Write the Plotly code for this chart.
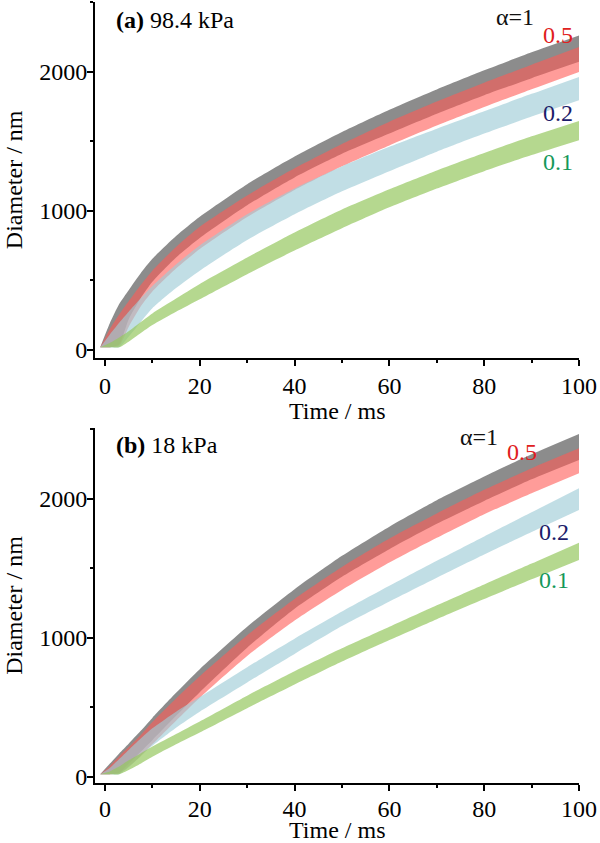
import plotly.graph_objects as go

# ---------------- data ----------------
time_ms = [-1, 1, 3, 5, 7.5, 10, 15, 20, 30, 40, 50, 60, 70, 80, 90, 100]

# panel (a) 98.4 kPa
a_a1_hi  = [20, 190, 330, 430, 550, 655, 819, 957, 1191, 1390, 1566, 1726, 1872, 2009, 2139, 2260]
a_a1_lo  = [20, 20, 40, 220, 370, 490, 665, 805, 1040, 1240, 1410, 1555, 1697, 1830, 1953, 2070]
a_a05_hi = [20, 150, 255, 350, 465, 570, 740, 885, 1110, 1305, 1480, 1640, 1785, 1920, 2050, 2177]
a_a05_lo = [20, 20, 30, 165, 310, 420, 585, 725, 955, 1150, 1320, 1470, 1612, 1745, 1873, 1998]
a_a02_hi = [20, 110, 195, 275, 370, 460, 615, 750, 975, 1160, 1320, 1460, 1590, 1715, 1840, 1962]
a_a02_lo = [20, 20, 20, 95, 200, 300, 445, 570, 790, 975, 1140, 1285, 1425, 1555, 1678, 1795]
a_a01_hi = [20, 50, 90, 135, 200, 263, 370, 475, 665, 845, 1010, 1155, 1290, 1415, 1535, 1646]
a_a01_lo = [20, 20, 20, 60, 120, 179, 275, 365, 545, 715, 875, 1025, 1160, 1285, 1400, 1507]

# panel (b) 18 kPa
b_a1_hi  = [20, 95, 170, 240, 330, 425, 605, 775, 1080, 1350, 1590, 1800, 1990, 2160, 2320, 2466]
b_a1_lo  = [20, 20, 30, 95, 180, 265, 440, 610, 930, 1210, 1440, 1638, 1820, 1985, 2140, 2279]
b_a05_hi = [20, 80, 150, 215, 300, 395, 565, 725, 1020, 1280, 1510, 1715, 1895, 2065, 2220, 2363]
b_a05_lo = [20, 20, 25, 75, 150, 235, 405, 570, 870, 1125, 1345, 1542, 1720, 1890, 2040, 2184]
b_a02_hi = [20, 65, 130, 195, 275, 350, 470, 575, 790, 995, 1190, 1375, 1555, 1730, 1903, 2076]
b_a02_lo = [20, 20, 20, 70, 150, 225, 355, 470, 680, 885, 1085, 1262, 1433, 1600, 1762, 1920]
b_a01_hi = [20, 40, 75, 120, 170, 220, 310, 400, 585, 760, 925, 1080, 1235, 1385, 1535, 1685]
b_a01_lo = [20, 20, 20, 50, 95, 145, 235, 320, 495, 665, 830, 985, 1135, 1280, 1422, 1561]

alpha_labels = ["α=1", "0.5", "0.2", "0.1"]
label_a_x = [86.4, 95.5, 95.5, 95.5]
label_a_y = [2390, 2261, 1701, 1350]
label_b_x = [79, 88, 94.7, 94.7]
label_b_y = [2445, 2337, 1762, 1417]

panel_titles = ["<b>(a)</b> 98.4 kPa", "<b>(b)</b> 18 kPa"]
x_title = "Time / ms"
y_title = "Diameter / nm"

# ---------------- styling ----------------
FONT = "Liberation Serif, Times New Roman, serif"
fills = ["rgba(120,120,120,0.85)", "rgba(255,90,85,0.6)",
         "rgba(160,205,215,0.65)", "rgba(150,200,95,0.7)"]
label_colors = ["#111111", "#e02020", "#1c1c6a", "#15985a"]

fig = go.Figure()

panels = [
    ("x", "y", [(a_a1_lo, a_a1_hi), (a_a05_lo, a_a05_hi), (a_a02_lo, a_a02_hi), (a_a01_lo, a_a01_hi)]),
    ("x2", "y2", [(b_a1_lo, b_a1_hi), (b_a05_lo, b_a05_hi), (b_a02_lo, b_a02_hi), (b_a01_lo, b_a01_hi)]),
]

for xa, ya, bands in panels:
    for (lo, hi), col in zip(bands, fills):
        fig.add_trace(go.Scatter(x=time_ms, y=lo, mode="lines",
                                 line=dict(width=0, shape="spline", smoothing=0.6),
                                 xaxis=xa, yaxis=ya, showlegend=False, hoverinfo="skip"))
        fig.add_trace(go.Scatter(x=time_ms, y=hi, mode="lines",
                                 line=dict(width=0, shape="spline", smoothing=0.6),
                                 fill="tonexty", fillcolor=col,
                                 xaxis=xa, yaxis=ya, showlegend=False, hoverinfo="skip"))

annotations = []
for xa, ya, lx, ly in [("x", "y", label_a_x, label_a_y), ("x2", "y2", label_b_x, label_b_y)]:
    for txt, x, y, c in zip(alpha_labels, lx, ly, label_colors):
        annotations.append(dict(x=x, y=y, xref=xa, yref=ya, text=txt, showarrow=False,
                                font=dict(family=FONT, size=24, color=c),
                                xanchor="center", yanchor="middle"))
annotations.append(dict(x=1.9, y=2369, xref="x", yref="y", text=panel_titles[0], showarrow=False,
                        font=dict(family=FONT, size=24, color="black"), xanchor="left", yanchor="middle"))
annotations.append(dict(x=1.9, y=2387, xref="x2", yref="y2", text=panel_titles[1], showarrow=False,
                        font=dict(family=FONT, size=24, color="black"), xanchor="left", yanchor="middle"))
# x-axis titles (placed as annotations so they sit where the reference puts them)
for yy in [0.4764, -0.0602]:
    annotations.append(dict(x=0.5, y=yy, xref="paper", yref="paper", text=x_title, showarrow=False,
                            font=dict(family=FONT, size=24, color="black"),
                            xanchor="center", yanchor="middle"))

def xaxis_style(anchor, standoff):
    return dict(anchor=anchor, range=[-2.1, 100], tickvals=[0, 20, 40, 60, 80, 100],
                automargin=False, ticklabelstandoff=standoff,
                showline=True, linecolor="black", linewidth=2, ticks="outside", ticklen=6,
                tickwidth=2, tickcolor="black", showgrid=False, zeroline=False,
                minor=dict(ticks="outside", ticklen=3, tickwidth=2, dtick=10, tick0=0, tickcolor="black"),
                tickfont=dict(family=FONT, size=24, color="black"))

def yaxis_style(anchor, domain, rng):
    return dict(anchor=anchor, domain=domain, range=rng, tickvals=[0, 1000, 2000],
                automargin=False, ticklabelstandoff=-5,
                showline=True, linecolor="black", linewidth=2, ticks="outside", ticklen=6,
                tickwidth=2, tickcolor="black", showgrid=False, zeroline=False,
                minor=dict(ticks="outside", ticklen=3, tickwidth=2, dtick=500, tick0=0, tickcolor="black"),
                tickfont=dict(family=FONT, size=24, color="black"),
                title=dict(text=y_title, font=dict(family=FONT, size=24, color="black"), standoff=10))

fig.update_layout(
    width=600, height=843,
    margin=dict(l=95, r=21, t=2, b=60, autoexpand=False),
    paper_bgcolor="white", plot_bgcolor="white",
    xaxis=xaxis_style("y", 0),
    yaxis=yaxis_style("x", [0.5446, 1.0], [-55, 2500]),
    xaxis2=xaxis_style("y2", -3),
    yaxis2=yaxis_style("x2", [0.0, 0.4545], [-43, 2509]),
    annotations=annotations,
    showlegend=False,
)

fig.write_html("out.html", config={"displayModeBar": False},
               post_script="document.body.style.margin='0';")
